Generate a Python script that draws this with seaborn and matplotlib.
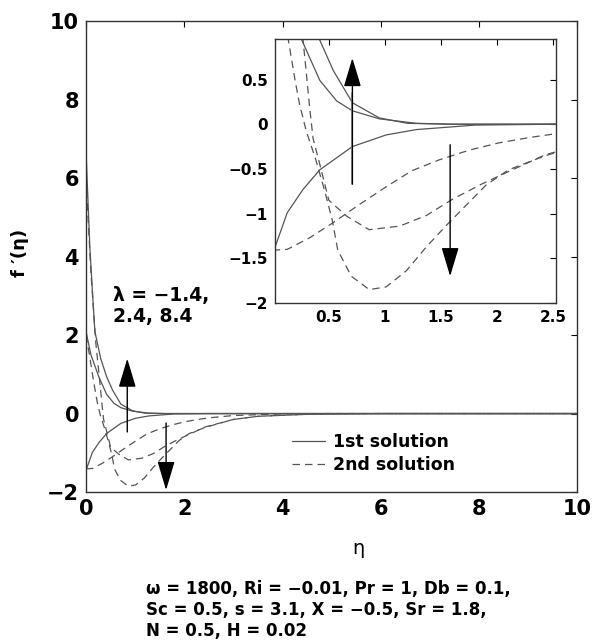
"""
Velocity profiles f'(eta) for the first and second solutions,
lambda = -1.4, 2.4, 8.4, with a zoomed inset near the wall.

Output:
    out.png
"""

import pandas as pd
import seaborn as sns
import matplotlib.pyplot as plt


# ---------------------------------------------------------------------
# Data
# ---------------------------------------------------------------------

# 1st solution (solid)
eta_s1 = [0.0, 0.02, 0.13, 0.27, 0.42, 0.71, 1.01, 1.28, 1.8, 2.5, 10.0]
f_s1 = [-1.42, -1.38, -0.99, -0.73, -0.51, -0.25, -0.12, -0.06, -0.01, 0.0, 0.0]

eta_s2 = [0.0, 0.1, 0.26, 0.42, 0.57, 0.71, 0.95, 1.28, 1.6, 10.0]
f_s2 = [2.1, 1.5, 0.94, 0.49, 0.26, 0.15, 0.06, 0.01, 0.0, 0.0]

eta_s3 = [0.0, 0.08, 0.18, 0.3, 0.42, 0.54, 0.71, 0.95, 1.2, 1.6, 10.0]
f_s3 = [6.7, 4.2, 2.1, 1.4, 0.94, 0.6, 0.24, 0.07, 0.01, 0.0, 0.0]

# 2nd solution (dashed)
eta_d1 = [0.0, 0.07, 0.14, 0.2, 0.24, 0.3, 0.38, 0.46, 0.53, 0.58, 0.7,
          0.86, 1.01, 1.19, 1.37, 1.54, 1.72, 1.9, 2.1, 2.37, 2.46, 3.0,
          3.5, 4.5, 6.0, 10.0]
f_d1 = [2.0, 1.5, 0.94, 0.49, 0.22, -0.08, -0.38, -0.73, -1.07, -1.41,
        -1.7, -1.85, -1.82, -1.64, -1.37, -1.14, -0.91, -0.68, -0.51,
        -0.38, -0.34, -0.15, -0.07, -0.02, 0.0, 0.0]

eta_d2 = [0.0, 0.1, 0.2, 0.27, 0.3, 0.33, 0.36, 0.42, 0.5, 0.66, 0.86,
          1.13, 1.37, 1.6, 1.86, 2.1, 2.43, 3.0, 3.5, 4.5, 6.0, 10.0]
f_d2 = [6.0, 3.6, 1.8, 0.95, 0.57, 0.18, -0.16, -0.45, -0.85, -1.03,
        -1.18, -1.14, -1.02, -0.84, -0.67, -0.53, -0.34, -0.15, -0.07,
        -0.02, 0.0, 0.0]

eta_d3 = [0.0, 0.13, 0.33, 0.54, 0.77, 1.01, 1.24, 1.48, 1.75, 2.01,
          2.28, 2.5, 3.0, 4.0, 5.0, 10.0]
f_d3 = [-1.41, -1.4, -1.27, -1.1, -0.9, -0.7, -0.52, -0.4, -0.29, -0.21,
        -0.15, -0.11, -0.05, -0.01, 0.0, 0.0]

SOLID = [(eta_s1, f_s1), (eta_s2, f_s2), (eta_s3, f_s3)]
DASHED = [(eta_d1, f_d1), (eta_d2, f_d2), (eta_d3, f_d3)]

LINE_COLOR = "#555555"


def draw_curves(ax, with_labels=False):
    for i, (x, y) in enumerate(SOLID):
        sns.lineplot(
            data=pd.DataFrame({"eta": x, "f": y}), x="eta", y="f", ax=ax,
            color=LINE_COLOR, linewidth=0.9, estimator=None,
            label="1st solution" if (with_labels and i == 0) else None,
        )
    for i, (x, y) in enumerate(DASHED):
        sns.lineplot(
            data=pd.DataFrame({"eta": x, "f": y}), x="eta", y="f", ax=ax,
            color=LINE_COLOR, linewidth=0.9, estimator=None,
            linestyle=(0, (6, 4)),
            label="2nd solution" if (with_labels and i == 0) else None,
        )


def style_axes(ax, size):
    ax.tick_params(direction="in", top=True, right=True, length=4,
                   width=0.8, labelsize=size, pad=5, colors="black")
    for lab in ax.get_xticklabels() + ax.get_yticklabels():
        lab.set_fontweight("bold")
    for sp in ax.spines.values():
        sp.set_linewidth(1.0)
        sp.set_color("#333333")
    ax.set_xlabel("")
    ax.set_ylabel("")


def arrow(ax, x, y0, y1, shaft="black"):
    ax.annotate(
        "", xy=(x, y1), xytext=(x, y0),
        arrowprops=dict(arrowstyle="-|>,head_length=1.5,head_width=0.45",
                        color="black", lw=1.0, shrinkA=0, shrinkB=0),
    )
    if shaft != "black":
        ax.plot([x, x], [y0, y0 + 0.72 * (y1 - y0)], color=shaft, lw=1.3)


sns.set_theme(style="white")
plt.rcParams["font.family"] = ["DejaVu Sans"]
plt.rcParams["text.color"] = "black"

fig = plt.figure(figsize=(5.95, 6.44), dpi=100)

# main axes
ax = fig.add_axes([0.1445, 0.236, 0.826, 0.731])
draw_curves(ax, with_labels=True)
ax.set_xlim(0, 10)
ax.set_ylim(-2, 10)
ax.set_xticks([0, 2, 4, 6, 8, 10])
ax.set_yticks([-2, 0, 2, 4, 6, 8, 10])
ax.set_yticklabels(["\u22122", "0", "2", "4", "6", "8", "10"])
style_axes(ax, 15)

arrow(ax, 0.84, -0.47, 1.4)
arrow(ax, 1.63, -0.24, -1.95)

ax.text(0.55, 2.74, "\u03bb = \u22121.4,\n2.4, 8.4", fontsize=13.5,
        fontweight="bold", va="center", ha="left", linespacing=1.15,
        color="black")

leg = ax.legend(loc="upper left", bbox_to_anchor=(0.406, 0.14),
                frameon=False, fontsize=12.5, handlelength=1.9,
                handletextpad=0.45, borderaxespad=0, labelspacing=0.3)
for t in leg.get_texts():
    t.set_fontweight("bold")
    t.set_color("black")

fig.text(0.603, 0.149, "\u03b7", fontsize=14, ha="center", va="center",
         color="black")
fig.text(0.034, 0.607, "f \u2032(\u03b7)", fontsize=13, fontweight="bold",
         rotation=90, ha="center", va="center", color="black")

fig.text(0.246, 0.053,
         "\u03c9 = 1800, Ri = \u22120.01, Pr = 1, Db = 0.1,\n"
         "Sc = 0.5, s = 3.1, X = \u22120.5, Sr = 1.8,\n"
         "N = 0.5, H = 0.02",
         fontsize=12, fontweight="bold", ha="left", va="center",
         linespacing=1.2, color="black")

# inset axes
axi = fig.add_axes([0.462, 0.5295, 0.472, 0.4095])
draw_curves(axi)
axi.set_xlim(0.02, 2.52)
axi.set_ylim(-2.0, 0.95)
axi.set_xticks([0.5, 1, 1.5, 2, 2.5])
axi.set_xticklabels(["0.5", "1", "1.5", "2", "2.5"])
axi.set_yticks([-2, -1.5, -1, -0.5, 0, 0.5])
axi.set_yticklabels(["\u22122", "\u22121.5", "\u22121", "\u22120.5", "0", "0.5"])
style_axes(axi, 11)
if axi.get_legend() is not None:
    axi.get_legend().remove()

arrow(axi, 0.71, -0.67, 0.74, shaft="#999999")
arrow(axi, 1.58, -0.23, -1.7)

fig.savefig("out.png", dpi=100)
plt.close(fig)
